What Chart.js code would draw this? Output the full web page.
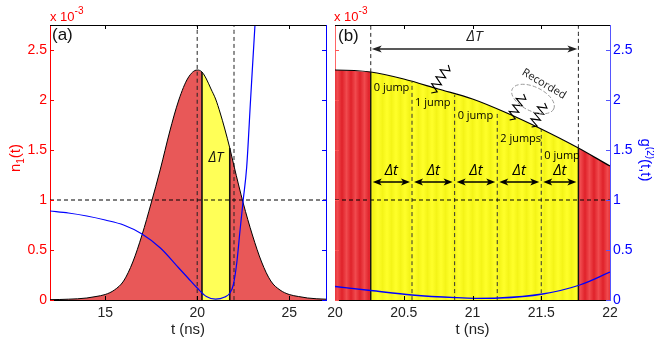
<!DOCTYPE html>
<html><head><meta charset="utf-8">
<script src="https://cdn.jsdelivr.net/npm/chart.js@4/dist/chart.umd.min.js"></script>
<style>
html,body{margin:0;padding:0;background:#fff;width:654px;height:339px;overflow:hidden;}
.w{position:absolute;left:0;top:0;width:654px;height:339px;}
</style></head><body>
<div class="w"><canvas id="ca"></canvas></div>
<div class="w"><canvas id="cb"></canvas></div>
<script>
// ---------------- DATA ----------------
const tN1 = [12,12.5,13,13.5,14,14.5,15,15.5,16,16.5,17,17.5,18,18.5,19,19.5,20,20.26,20.5,20.75,21,21.25,21.5,21.77,22,22.5,23,23.5,24,24.5,25,25.5,26,26.5,27];
const n1 = [0.003,0.005,0.008,0.012,0.02,0.035,0.055,0.10,0.19,0.38,0.65,0.97,1.31,1.68,2.0,2.22,2.30,2.28,2.21,2.11,2.01,1.87,1.71,1.52,1.34,0.97,0.65,0.38,0.19,0.10,0.055,0.035,0.02,0.012,0.008];
const tG2a = [12,13,14,15,16,17,18,19,19.5,20,20.5,21,21.5,21.78,21.96,22.15,22.33,22.5,22.69,22.9,23.14,23.3];
const g2a = [0.89,0.87,0.84,0.80,0.75,0.66,0.52,0.32,0.22,0.12,0.035,0.008,0.03,0.07,0.15,0.37,0.7,1.0,1.33,2.0,2.75,3.2];
const tG2b = [20,20.26,20.56,20.88,21.02,21.19,21.51,21.78,22];
const g2b = [0.135,0.095,0.05,0.023,0.017,0.02,0.06,0.15,0.28];
const binEdges = [20.26,20.56,20.87,21.18,21.5,21.77];
const binEdgeN1 = [2.28,2.18,2.05,1.88,1.71,1.52];
const refTimesA = [20,22];
const threshold = 1;
const jumpLabels = ['0 jump','1 jump','0 jump','2 jumps','0 jump'];
const xTicksA = [15,20,25];
const xTicksB = [20,20.5,21,21.5,22];
const yTicks = [0,0.5,1,1.5,2,2.5];
const yLabels = ['0','0.5','1','1.5','2','2.5'];
const xRangeA = [12,27], xRangeB = [20,22], yRange = [0,2.75];

// ---------------- HELPERS ----------------
const FONT = 'Liberation Sans, Arial, sans-serif';
const pts = (xs,ys)=>xs.map((x,i)=>({x:x,y:ys[i]}));
const n1pts = pts(tN1,n1);
const wStart = binEdges[0], wEnd = binEdges[binEdges.length-1];
function seg(lo,hi){return n1pts.filter(p=>p.x>=lo-1e-9 && p.x<=hi+1e-9);}
function ln(ctx,x0,y0,x1,y1){ctx.beginPath();ctx.moveTo(x0,y0);ctx.lineTo(x1,y1);ctx.stroke();}
function rich(ctx,parts,x,y,align,rot,color){
  ctx.save();ctx.translate(x,y);ctx.rotate(rot||0);ctx.fillStyle=color;ctx.textBaseline='alphabetic';ctx.textAlign='left';
  let w=0;parts.forEach(p=>{ctx.font=p.f;w+=ctx.measureText(p.t).width;});
  let cx=align==='center'?-w/2:(align==='right'?-w:0);
  parts.forEach(p=>{ctx.font=p.f;ctx.fillText(p.t,cx,p.dy||0);cx+=ctx.measureText(p.t).width;});
  ctx.restore();
}
function arrowHead(ctx,x,y,dir,len,hw){
  ctx.beginPath();ctx.moveTo(x,y);ctx.lineTo(x-dir*len,y-hw);ctx.lineTo(x-dir*len*0.75,y);ctx.lineTo(x-dir*len,y+hw);ctx.closePath();ctx.fill();
}
function dblArrow(ctx,x0,x1,y,len,hw){
  ln(ctx,x0+len*0.5,y,x1-len*0.5,y);
  arrowHead(ctx,x1,y,1,len,hw);arrowHead(ctx,x0,y,-1,len,hw);
}
function zigzag(ctx,x0,y0,x1,y1,n,amp){
  const dx=x1-x0,dy=y1-y0,L=Math.hypot(dx,dy),px=-dy/L,py=dx/L;
  ctx.beginPath();ctx.moveTo(x0,y0);
  for(let i=1;i<2*n;i++){const s=i/(2*n);const a=(i%2?amp:-amp);ctx.lineTo(x0+dx*s+px*a,y0+dy*s+py*a);}
  ctx.lineTo(x1,y1);ctx.stroke();
}
function stripes(c1,c2,period){
  const cv=document.createElement('canvas');cv.width=period;cv.height=4;
  const g=cv.getContext('2d');const gr=g.createLinearGradient(0,0,period,0);
  gr.addColorStop(0,c1);gr.addColorStop(0.5,c2);gr.addColorStop(1,c1);
  g.fillStyle=gr;g.fillRect(0,0,period,4);
  return g.createPattern(cv,'repeat');
}
function innerTicks(chart,xt,leftColor,rightColor){
  const {ctx,chartArea:ca,scales:{x,y}}=chart;
  ctx.save();ctx.lineWidth=1;
  ctx.strokeStyle='#000';
  ln(ctx,ca.left,ca.top+0.5,ca.right,ca.top+0.5);
  xt.forEach(v=>{const p=Math.round(x.getPixelForValue(v))+0.5;ln(ctx,p,ca.bottom,p,ca.bottom-4);ln(ctx,p,ca.top,p,ca.top+4);});
  yTicks.forEach(v=>{const p=Math.round(y.getPixelForValue(v))+0.5;
    ctx.strokeStyle=leftColor;ln(ctx,ca.left,p,ca.left+4,p);
    ctx.strokeStyle=rightColor;ln(ctx,ca.right,p,ca.right-4,p);});
  ctx.restore();
}
const baseOpts = {animation:false,responsive:true,maintainAspectRatio:false,devicePixelRatio:1,
  plugins:{legend:{display:false},tooltip:{enabled:false}},
  elements:{point:{radius:0},line:{cubicInterpolationMode:'monotone'}}};
function lineDS(data,o){return Object.assign({data:data,borderWidth:1,borderColor:'#000',fill:false,pointRadius:0,yAxisID:'y'},o);}

// ---------------- CHART A ----------------
const redA='#E85858', yelA='#FFFF57';
const dsA = [
  lineDS(seg(xRangeA[0],wStart),{fill:'origin',backgroundColor:redA,borderWidth:0,order:10}),
  lineDS(seg(wStart,wEnd),{fill:'origin',backgroundColor:yelA,borderWidth:0,order:10}),
  lineDS(seg(wEnd,xRangeA[1]),{fill:'origin',backgroundColor:redA,borderWidth:0,order:10}),
  lineDS([{x:xRangeA[0],y:threshold},{x:xRangeA[1],y:threshold}],{borderDash:[4,3],order:5}),
  ...refTimesA.map(t=>lineDS([{x:t,y:yRange[0]},{x:t,y:yRange[1]}],{borderDash:[4,3],borderColor:'#222',order:5})),
  lineDS(n1pts,{borderWidth:1,order:3}),
  ...[wStart,wEnd].map((t,i)=>lineDS([{x:t,y:0},{x:t,y:binEdgeN1[i===0?0:binEdgeN1.length-1]}],{borderWidth:1.6,borderColor:'#111',order:2})),
  lineDS(pts(tG2a,g2a),{borderColor:'#0000FF',borderWidth:1.2,yAxisID:'y2',order:1})
];
const decorA={id:'decorA',afterDraw(chart){
  const {ctx,chartArea:ca,scales:{x,y}}=chart;
  innerTicks(chart,xTicksA,'#f00','#00f');
  ctx.save();
  ctx.fillStyle='#111';ctx.font='17px '+FONT;ctx.textBaseline='alphabetic';ctx.fillText('(a)',ca.left+2,40);
  ctx.font='italic 14px "Open Sans"';ctx.textAlign='center';ctx.textBaseline='middle';
  ctx.fillText('\u0394T',(x.getPixelForValue(wStart)+x.getPixelForValue(wEnd))/2+0,158);
  rich(ctx,[{t:'x 10',f:'13px '+FONT},{t:'-3',f:'10px '+FONT,dy:-7}],ca.left,21,'left',0,'#f00');
  rich(ctx,[{t:'n',f:'15px '+FONT},{t:'1',f:'10px '+FONT,dy:4},{t:'(t)',f:'15px '+FONT}],20,158,'center',-Math.PI/2,'#f00');
  ctx.restore();
}};
new Chart(document.getElementById('ca'),{type:'line',data:{datasets:dsA},
  options:Object.assign({},baseOpts,{
    layout:{padding:{left:0,right:324,top:25,bottom:0}},
    scales:{
      x:{type:'linear',min:xRangeA[0],max:xRangeA[1],afterBuildTicks:s=>{s.ticks=xTicksA.map(v=>({value:v}));},afterFit:s=>{s.height=39;},
        grid:{display:false,drawTicks:false},border:{display:true,color:'#000',width:1},
        ticks:{color:'#222',font:{family:FONT,size:14},padding:5,maxRotation:0,callback:v=>String(v)},
        title:{display:true,text:'t (ns)',color:'#222',font:{family:FONT,size:15},padding:{top:0,bottom:0}}},
      y:{type:'linear',position:'left',min:yRange[0],max:yRange[1],afterBuildTicks:s=>{s.ticks=yTicks.map(v=>({value:v}));},afterFit:s=>{s.width=50;},
        grid:{display:false,drawTicks:false},border:{display:true,color:'#f00',width:1},
        ticks:{color:'#f00',font:{family:FONT,size:14},padding:3,callback:(v)=>yLabels[yTicks.indexOf(v)]}},
      y2:{type:'linear',position:'right',min:yRange[0],max:yRange[1],afterFit:s=>{s.width=4;},
        grid:{display:false,drawTicks:false},border:{display:true,color:'#00f',width:1},ticks:{display:false}}
    }}),
  plugins:[decorA]});

// ---------------- CHART B ----------------
const ctxB=document.getElementById('cb').getContext('2d');
const redB=stripes('#E0222A','#F04A4E',9), yelB=stripes('#FFFF2A','#F4F418',9);
const dsB = [
  lineDS(seg(19,wStart),{fill:'origin',backgroundColor:redB,borderWidth:0,order:10}),
  lineDS(seg(wStart,wEnd),{fill:'origin',backgroundColor:yelB,borderWidth:0,order:10}),
  lineDS(seg(wEnd,23),{fill:'origin',backgroundColor:redB,borderWidth:0,order:10}),
  lineDS([{x:xRangeB[0],y:threshold},{x:xRangeB[1],y:threshold}],{borderDash:[4,3],order:5}),
  ...[0,binEdges.length-1].map(i=>lineDS([{x:binEdges[i],y:binEdgeN1[i]},{x:binEdges[i],y:yRange[1]}],{borderDash:[4,3],borderColor:'#222',order:5})),
  ...binEdges.slice(1,-1).map((t,i)=>lineDS([{x:t,y:0},{x:t,y:binEdgeN1[i+1]}],{borderDash:[4,3],borderColor:'#333',order:5})),
  lineDS(seg(19,23),{borderWidth:1.2,order:3}),
  ...[0,binEdges.length-1].map(i=>lineDS([{x:binEdges[i],y:0},{x:binEdges[i],y:binEdgeN1[i]}],{borderWidth:1.4,borderColor:'#111',order:2})),
  lineDS(pts(tG2b,g2b),{borderColor:'#0000FF',borderWidth:1.3,yAxisID:'y2',order:1})
];
const decorB={id:'decorB',afterDraw(chart){
  const {ctx,chartArea:ca,scales:{x,y}}=chart;
  innerTicks(chart,xTicksB.slice(1,-1),'#f55','#55f');
  ctx.save();
  ctx.fillStyle='#111';ctx.font='17px '+FONT;ctx.textBaseline='alphabetic';ctx.fillText('(b)',ca.left+3,41);
  rich(ctx,[{t:'x 10',f:'13px '+FONT},{t:'-3',f:'10px '+FONT,dy:-7}],ca.left-1,21,'left',0,'#f00');
  rich(ctx,[{t:'g',f:'15px '+FONT},{t:'(2)',f:'10px '+FONT,dy:-6},{t:'(t,t)',f:'15px '+FONT}],641,160,'center',Math.PI/2,'#0000ff');
  const xs=binEdges.map(t=>x.getPixelForValue(t));
  // Delta T arrow
  ctx.strokeStyle='#222';ctx.fillStyle='#222';ctx.lineWidth=1.5;
  const yT=y.getPixelForValue(2.51);
  dblArrow(ctx,xs[0]+1,xs[xs.length-1]-1,yT,10,3.5);
  ctx.font='italic 15px "Open Sans"';ctx.textAlign='center';ctx.textBaseline='middle';
  ctx.fillText('\u0394T',(xs[0]+xs[xs.length-1])/2,37);
  // Delta t arrows
  ctx.strokeStyle='#000';ctx.fillStyle='#000';ctx.lineWidth=1.5;
  const yA=y.getPixelForValue(1.18), yL=y.getPixelForValue(1.29);
  for(let i=0;i<xs.length-1;i++){
    dblArrow(ctx,xs[i]+2,xs[i+1]-2,yA,9,3.5);
    ctx.font='italic 15px "Open Sans"';ctx.fillText('\u0394t',(xs[i]+xs[i+1])/2,yL);
  }
  // jump labels
  const ly=[2.12,1.97,1.84,1.61,1.445];
  ctx.textAlign='left';ctx.font='11px "Open Sans"';ctx.fillStyle='#000';
  jumpLabels.forEach((s,i)=>ctx.fillText(s,xs[i]+3,y.getPixelForValue(ly[i])));
  // photons
  ctx.lineWidth=1.1;ctx.strokeStyle='#000';
  const ph=[[20.70,2.07,17,-28],[21.27,1.80,14,-26],[21.43,1.73,13,-24]];
  ph.forEach(p=>{const x0=x.getPixelForValue(p[0]),y0=y.getPixelForValue(p[1]);zigzag(ctx,x0,y0,x0+p[2],y0+p[3],4,4.5);});
  // recorded ellipse
  ctx.strokeStyle='#999';ctx.setLineDash([4,2]);ctx.lineWidth=1;
  ctx.beginPath();ctx.ellipse(533,99,23,12,0.45,0,Math.PI*2);ctx.stroke();ctx.setLineDash([]);
  ctx.save();ctx.translate(544,84);ctx.rotate(0.53);ctx.fillStyle='#222';ctx.font='11px "Open Sans"';ctx.textAlign='center';ctx.textBaseline='middle';ctx.fillText('Recorded',0,0);ctx.restore();
  ctx.restore();
}};
new Chart(ctxB,{type:'line',data:{datasets:dsB},
  options:Object.assign({},baseOpts,{
    layout:{padding:{left:330,right:0,top:25,bottom:0}},
    scales:{
      x:{type:'linear',min:xRangeB[0],max:xRangeB[1],afterBuildTicks:s=>{s.ticks=xTicksB.map(v=>({value:v}));},afterFit:s=>{s.height=39;},
        grid:{display:false,drawTicks:false},border:{display:true,color:'#000',width:1},
        ticks:{color:'#222',font:{family:FONT,size:14},padding:5,maxRotation:0,callback:v=>String(v)},
        title:{display:true,text:'t (ns)',color:'#222',font:{family:FONT,size:15},padding:{top:0,bottom:0}}},
      y:{type:'linear',position:'left',min:yRange[0],max:yRange[1],afterFit:s=>{s.width=5;},
        grid:{display:false,drawTicks:false},border:{display:true,color:'#f66',width:1},ticks:{display:false}},
      y2:{type:'linear',position:'right',min:yRange[0],max:yRange[1],afterBuildTicks:s=>{s.ticks=yTicks.map(v=>({value:v}));},afterFit:s=>{s.width=44;},
        grid:{display:false,drawTicks:false},border:{display:true,color:'#55f',width:1},
        ticks:{color:'#0000ff',font:{family:FONT,size:14},padding:3,callback:(v)=>yLabels[yTicks.indexOf(v)]}}
    }}),
  plugins:[decorB]});
</script>
</body></html>
